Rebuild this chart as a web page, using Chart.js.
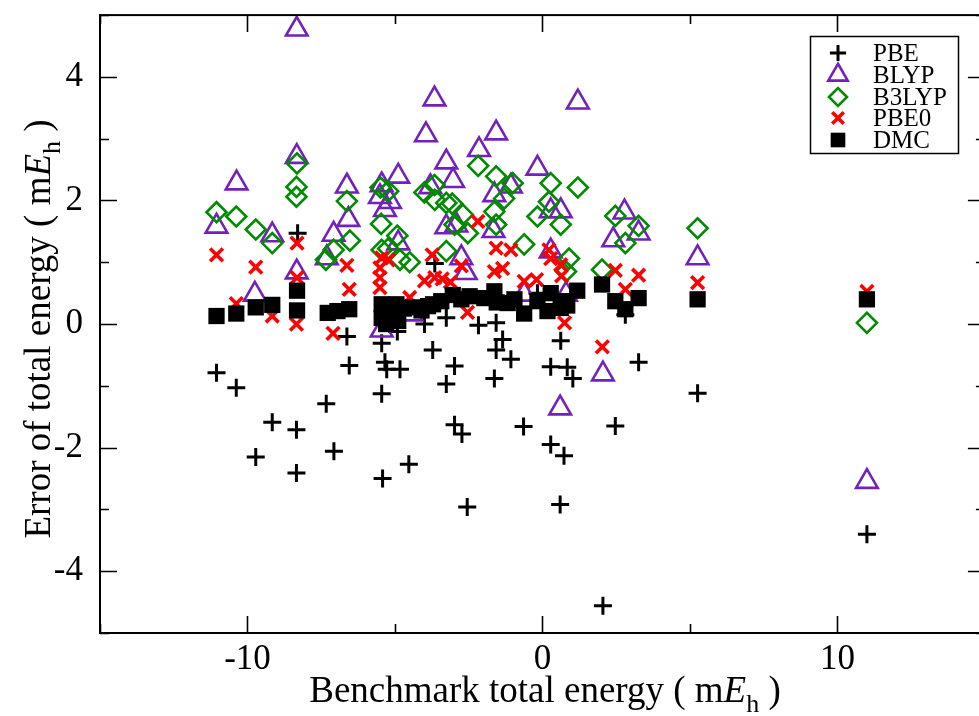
<!DOCTYPE html>
<html><head><meta charset="utf-8">
<script src="https://cdn.jsdelivr.net/npm/chart.js@4"></script>
<style>
html,body{margin:0;padding:0;overflow:hidden;background:#fff;width:979px;height:716px}
#wrap{position:absolute;left:0;top:0;width:1000px;height:716px}
</style>
</head><body><div id="wrap"><canvas id="c" width="1000" height="716"></canvas></div>
<script>
// ---------- data ----------
const xTickLabels = [-10, 0, 10];
const xMinorTicks = [-15, -5, 5, 15];
const yTickLabels = [-4, -2, 0, 2, 4];
const yMinorTicks = [-5, -3, -1, 1, 3, 5];
const xRange = [-15, 15];
const yRange = [-5, 5];
const seriesNames = ['PBE', 'BLYP', 'B3LYP', 'PBE0', 'DMC'];
const xTitle = 'Benchmark total energy';
const yTitle = 'Error of total energy';

const PBE = [[-11.05,-0.79],[-10.38,-1.03],[-9.72,-2.15],[-9.16,-1.59],[-8.34,-1.71],[-8.34,-2.41],[-8.30,1.47],
 [-7.33,-1.29],[-7.07,-2.06],[-6.55,-0.67],[-6.63,-0.20],[-5.45,-0.31],[-5.45,-1.13],[-5.42,-2.50],[-5.34,-0.62],
 [-5.28,-0.73],[-4.83,-0.73],[-4.92,-0.12],[-4.53,-2.27],[-4.00,0.00],[-3.72,-0.42],[-3.65,0.98],[-3.26,-0.97],
 [-3.26,0.10],[-2.98,-0.68],[-2.98,-1.63],[-2.73,-1.78],[-2.55,-2.96],[-2.17,-0.02],[-1.57,0.02],[-1.35,-0.25],
 [-1.57,-0.42],[-1.07,-0.57],[-1.63,-0.88],[-0.64,-1.66],[-0.17,0.50],[0.28,-0.69],[0.62,-0.27],[0.84,-0.70],
 [1.03,-0.88],[0.28,-1.95],[0.73,-2.13],[0.60,-2.92],[2.05,-4.56],[2.47,-1.65],[2.81,0.15],[3.26,-0.62],
 [5.26,-1.12],[11.0,-3.40]];
const BLYP = [[-11.05,1.58],[-10.37,2.28],[-9.75,0.48],[-9.16,1.44],[-8.33,4.77],[-8.33,2.71],[-8.33,0.84],
 [-7.31,1.07],[-7.08,1.45],[-6.63,2.23],[-6.58,1.69],[-5.45,2.25],[-5.51,2.06],[-5.17,1.98],[-5.34,1.85],
 [-5.45,-0.10],[-4.89,2.39],[-4.89,1.31],[-4.44,0.16],[-3.95,3.06],[-3.66,3.64],[-3.80,2.22],[-3.26,2.62],
 [-3.26,1.57],[-3.03,2.32],[-2.92,1.60],[-2.75,1.07],[-2.60,0.83],[-2.15,2.82],[-1.57,3.09],[-1.63,2.09],
 [-1.07,2.23],[-1.66,1.51],[-0.62,0.48],[-0.17,2.52],[0.28,1.83],[0.62,1.83],[0.28,1.18],[0.60,-1.36],
 [0.80,0.48],[1.20,3.59],[2.05,-0.81],[2.40,1.36],[2.78,1.81],[3.26,1.47],[5.26,1.07],[11.0,-2.55]];
const B3LYP = [[-11.05,1.81],[-10.38,1.74],[-9.72,1.53],[-9.16,1.31],[-8.32,2.60],[-8.34,2.22],[-8.34,2.06],
 [-7.34,1.04],[-7.08,1.20],[-6.63,1.99],[-6.53,1.35],[-5.49,2.21],[-5.23,2.15],[-5.47,1.62],[-4.92,1.43],
 [-5.45,1.20],[-5.23,1.22],[-4.83,1.04],[-4.50,1.00],[-4.00,2.13],[-3.66,2.25],[-3.65,2.01],[-3.26,1.96],
 [-3.06,1.95],[-2.98,1.61],[-3.26,1.18],[-2.18,2.56],[-1.57,2.39],[-1.01,2.28],[-1.30,2.03],[-2.70,1.77],
 [-1.63,1.82],[-2.53,1.47],[-1.57,1.61],[0.28,2.28],[0.22,1.98],[-0.17,1.74],[0.62,1.61],[-0.62,1.29],
 [1.20,2.21],[2.47,1.75],[3.26,1.59],[2.81,1.31],[0.90,1.06],[0.80,0.85],[2.02,0.88],[5.26,1.55],[11.0,0.02]];
const PBE0 = [[-11.05,1.12],[-10.38,0.33],[-9.72,0.92],[-9.16,0.13],[-8.32,1.31],[-8.32,0.75],[-8.34,0.00],
 [-7.10,-0.15],[-6.63,0.95],[-6.55,0.56],[-5.45,1.07],[-5.23,1.04],[-5.51,0.91],[-5.51,0.75],[-5.51,0.59],
 [-4.50,0.43],[-4.00,0.70],[-3.74,1.12],[-3.65,0.75],[-3.40,0.73],[-3.12,0.68],[-2.19,1.66],[-1.57,1.23],
 [-1.07,1.20],[-2.75,0.94],[-1.63,0.85],[-1.35,0.90],[-0.62,0.69],[-0.20,0.72],[0.22,1.20],[0.28,1.06],
 [0.62,0.96],[0.65,0.78],[2.47,0.87],[3.26,0.79],[2.81,0.56],[-2.54,0.19],[0.75,0.02],[2.03,-0.37],
 [5.26,0.67],[11.0,0.53]];
const DMC = [[-11.05,0.13],[-10.38,0.17],[-9.72,0.27],[-9.16,0.31],[-8.32,0.54],[-8.32,0.22],[-7.28,0.18],
 [-6.95,0.21],[-6.55,0.24],[-5.45,0.32],[-5.45,0.10],[-5.30,0.00],[-5.10,0.15],[-4.95,0.32],[-4.89,0.05],
 [-4.70,0.25],[-4.40,0.27],[-4.10,0.22],[-3.88,0.29],[-3.71,0.32],[-3.43,0.37],[-3.04,0.47],[-2.75,0.40],
 [-2.47,0.45],[-1.97,0.42],[-1.63,0.53],[-1.55,0.35],[-1.18,0.34],[-0.95,0.40],[-0.62,0.17],[-0.17,0.37],
 [0.17,0.21],[0.28,0.50],[0.62,0.26],[0.73,0.37],[0.84,0.30],[1.18,0.54],[2.02,0.64],[2.47,0.37],
 [2.81,0.24],[3.26,0.42],[5.26,0.40],[11.0,0.40]];

// ---------- styles ----------
const SERIF = '"Liberation Serif", "DejaVu Serif", serif';
const INDIGO = 'rgb(114,33,188)';
const GREEN = 'rgb(0,139,0)';
const RED = 'rgb(255,0,0)';
const styles = [
  {pointStyle:'cross', pointRadius:9, borderWidth:3, borderColor:'#000', backgroundColor:'#000', order:4},
  {pointStyle:'triangle', pointRadius:12.5, borderWidth:2.6, borderColor:INDIGO, backgroundColor:'rgba(0,0,0,0)', order:3},
  {pointStyle:'rectRot', pointRadius:10, borderWidth:2.6, borderColor:GREEN, backgroundColor:'rgba(0,0,0,0)', order:2},
  {pointStyle:'crossRot', pointRadius:9, borderWidth:3.6, borderColor:RED, backgroundColor:RED, order:1},
  {pointStyle:'rect', pointRadius:11.5, borderWidth:0, borderColor:'#000', backgroundColor:'#000', order:0}
];
const allData = [PBE, BLYP, B3LYP, PBE0, DMC];

const datasets = allData.map((arr, i) => ({
  label: seriesNames[i],
  data: arr.map(p => ({x:p[0], y:p[1]})),
  pointStyle: styles[i].pointStyle,
  pointRadius: styles[i].pointRadius,
  pointHoverRadius: styles[i].pointRadius,
  pointBorderWidth: styles[i].borderWidth,
  borderWidth: styles[i].borderWidth,
  pointBorderColor: styles[i].borderColor,
  pointBackgroundColor: styles[i].backgroundColor,
  borderColor: styles[i].borderColor,
  backgroundColor: styles[i].backgroundColor,
  order: styles[i].order,
  showLine: false
}));

function drawMarker(ctx, st, x, y) {
  const opts = {pointStyle: st.pointStyle, radius: st.pointRadius, borderWidth: st.borderWidth, rotation: 0};
  ctx.save();
  ctx.strokeStyle = st.borderColor;
  ctx.fillStyle = st.backgroundColor;
  ctx.lineWidth = st.borderWidth;
  Chart.helpers.drawPoint(ctx, opts, x, y);
  ctx.restore();
}

function drawRich(ctx, parts, x, y, align) {
  let w = 0;
  parts.forEach(p => { ctx.font = p.font; p.w = ctx.measureText(p.t).width; w += p.w; });
  let cx = align === 'center' ? x - w / 2 : x;
  parts.forEach(p => { ctx.font = p.font; ctx.fillText(p.t, cx, y + (p.dy || 0)); cx += p.w; });
}

const framePlugin = {
  id: 'frame',
  afterDatasetsDraw(chart) {
    const ctx = chart.ctx, a = chart.chartArea;
    const xs = chart.scales.x, ys = chart.scales.y;
    ctx.save();
    ctx.strokeStyle = '#000';
    ctx.lineWidth = 2;
    ctx.strokeRect(a.left, a.top, a.right - a.left, a.bottom - a.top);
    ctx.lineWidth = 1.6;
    ctx.beginPath();
    const major = 17, minor = 9;
    const xt = xTickLabels.map(v => [v, major]).concat(xMinorTicks.map(v => [v, minor]));
    xt.forEach(([v, L]) => {
      const px = Math.round(xs.getPixelForValue(v)) + 0.5;
      ctx.moveTo(px, a.bottom); ctx.lineTo(px, a.bottom - L);
      ctx.moveTo(px, a.top); ctx.lineTo(px, a.top + L);
    });
    const yt = yTickLabels.map(v => [v, major]).concat(yMinorTicks.map(v => [v, minor]));
    yt.forEach(([v, L]) => {
      const py = Math.round(ys.getPixelForValue(v)) + 0.5;
      ctx.moveTo(a.left, py); ctx.lineTo(a.left + L, py);
      ctx.moveTo(a.right, py); ctx.lineTo(a.right - L, py);
    });
    ctx.stroke();

    // axis titles
    ctx.fillStyle = '#000';
    ctx.textBaseline = 'alphabetic';
    ctx.textAlign = 'left';
    const F = '37px ' + SERIF, FI = 'italic 37px ' + SERIF, FS = '26px ' + SERIF;
    drawRich(ctx, [
      {t: xTitle + ' ( m', font: F}, {t: 'E', font: FI}, {t: 'h', font: FS, dy: 10}, {t: ' )', font: F}
    ], 545, 702, 'center');
    ctx.save();
    ctx.translate(50, 329);
    ctx.rotate(-Math.PI / 2);
    drawRich(ctx, [
      {t: yTitle + ' ( m', font: F}, {t: 'E', font: FI}, {t: 'h', font: FS, dy: 10}, {t: ' )', font: F}
    ], 0, 0, 'center');
    ctx.restore();

    // legend
    const L = {left: 810, top: 36, right: 958, bottom: 153};
    ctx.fillStyle = '#fff';
    ctx.fillRect(L.left, L.top, L.right - L.left, L.bottom - L.top);
    ctx.strokeStyle = '#000';
    ctx.lineWidth = 1.5;
    ctx.strokeRect(L.left + 0.5, L.top + 0.5, L.right - L.left, L.bottom - L.top);
    const rowY = [53, 75, 97, 118, 140];
    seriesNames.forEach((n, i) => {
      const st = Object.assign({}, styles[i]);
      st.pointRadius = st.pointRadius * 0.9;
      drawMarker(ctx, st, 838, rowY[i]);
      ctx.fillStyle = '#000';
      ctx.font = '25px ' + SERIF;
      ctx.textBaseline = 'middle';
      ctx.textAlign = 'left';
      ctx.fillText(n, 873, rowY[i] + 1);
    });
    ctx.restore();
  }
};

function zeroPad(s) { s.paddingTop = 0; s.paddingBottom = 0; s.paddingLeft = 0; s.paddingRight = 0; }

new Chart(document.getElementById('c'), {
  type: 'scatter',
  data: {datasets},
  options: {
    responsive: false,
    devicePixelRatio: 1,
    animation: false,
    layout: {padding: {left: 0, right: 10, top: 13, bottom: 0}},
    plugins: {legend: {display: false}, tooltip: {enabled: false}},
    scales: {
      x: {
        type: 'linear', min: xRange[0], max: xRange[1],
        afterBuildTicks: s => { s.ticks = xTickLabels.map(v => ({value: v})); },
        afterFit: s => { s.height = 83; zeroPad(s); },
        grid: {display: false, drawTicks: false},
        border: {display: false},
        ticks: {color: '#000', font: {family: SERIF, size: 35}, padding: 6, maxRotation: 0, autoSkip: false}
      },
      y: {
        type: 'linear', min: yRange[0], max: yRange[1],
        afterBuildTicks: s => { s.ticks = yTickLabels.map(v => ({value: v})); },
        afterFit: s => { s.width = 100; zeroPad(s); },
        grid: {display: false, drawTicks: false},
        border: {display: false},
        ticks: {color: '#000', font: {family: SERIF, size: 35}, padding: 17, autoSkip: false}
      }
    }
  },
  plugins: [framePlugin]
});
</script>
</body></html>
